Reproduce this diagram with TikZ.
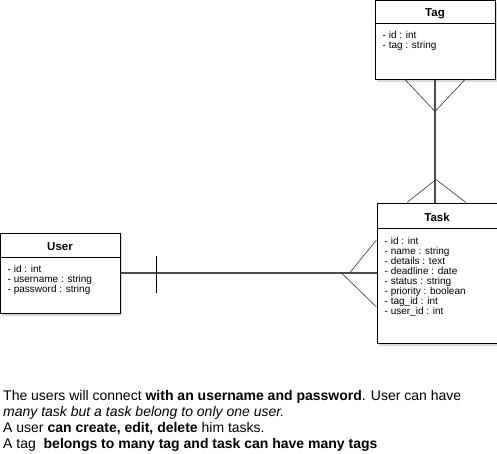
\documentclass[tikz,border=0pt]{standalone}
\usepackage{fontspec}
\setmainfont{Liberation Sans}
\usetikzlibrary{shadows}

\tikzset{
  entity/.style={draw, fill=white, line width=1pt, minimum width=120pt,
    drop shadow={opacity=0.3, shadow xshift=2pt, shadow yshift=-3pt}},
  entitytitle/.style={font=\fontsize{11.5}{12}\selectfont\bfseries, inner sep=0pt},
  attrs/.style={font=\fontsize{10}{10}\selectfont, align=left, anchor=north west, inner sep=0pt},
  link/.style={draw=black!70, line width=1.1pt},
  foot/.style={draw=black!80, line width=0.6pt},
}

\begin{document}
\begin{tikzpicture}[x=1pt,y=-1pt]
  \useasboundingbox (0,0) rectangle (497,453);

  % entities
  \node[entity, minimum height=79pt] (tag) at (435,39.5) {};
  \node[entity, minimum height=140pt] (task) at (437,273) {};
  \node[entity, minimum height=80pt] (user) at (60,273) {};

  \draw[line width=1pt] ([yshift=-24pt]tag.north west) -- ([yshift=-24pt]tag.north east);
  \draw[line width=1pt] ([yshift=-26pt]task.north west) -- ([yshift=-26pt]task.north east);
  \draw[line width=1pt] ([yshift=-25pt]user.north west) -- ([yshift=-25pt]user.north east);

  \node[entitytitle] (tagname) at ([yshift=-14.5pt]tag.north) {Tag};
  \node[entitytitle] (taskname) at ([yshift=-14.5pt]task.north) {Task};
  \node[entitytitle] (username) at ([yshift=-14.5pt]user.north) {User};

  \node[attrs] (tagattrs) at ([xshift=8pt,yshift=-32pt]tag.north west)
    {- id : int\\- tag : string};
  \node[attrs] (taskattrs) at ([xshift=8pt,yshift=-34.5pt]task.north west)
    {- id : int\\- name : string\\- details : text\\- deadline : date\\- status : string\\%
     - priority : boolean\\- tag\_id : int\\- user\_id : int};
  \node[attrs] (userattrs) at ([xshift=8pt,yshift=-33pt]user.north west)
    {- id : int\\- username : string\\- password : string};

  % relations
  \coordinate (tagfoot) at ([yshift=-32pt]tag.south);
  \coordinate (taskfoot) at ([xshift=-1pt,yshift=23pt]task.north);
  \coordinate (userfoota) at ([xshift=-27pt]task.west);
  \coordinate (userfootb) at ([xshift=-35pt]task.west);
  \begin{scope}
    \draw[link] (tag.south) -- (task.north -| tag.south);
    \draw[foot] ([xshift=-30pt]tag.south) -- (tagfoot) -- ([xshift=30pt]tag.south);
    \draw[foot] ([xshift=-30pt]task.north) -- (taskfoot) -- ([xshift=29pt]task.north);
    \draw[link] (user.east) -- (task.west);
    \draw[line width=0.8pt] ([xshift=36pt,yshift=17pt]user.east) -- ([xshift=36pt,yshift=-20pt]user.east);
    \draw[foot] ([yshift=33pt]task.west) -- (userfoota);
    \draw[foot] (userfootb) -- ([yshift=-34pt]task.west);
  \end{scope}

  % notes
  \node[anchor=north west, align=left, inner sep=0pt,
        font=\fontsize{14}{16.2}\selectfont] (notes) at (3,390)
    {The users will connect \textbf{with an username and password}. User can have\\
     \textit{many task but a task belong to only one user.}\\
     A user \textbf{can create, edit, delete} him tasks.\\
     A tag\ \ \textbf{belongs to many tag and task can have many tags}};
\end{tikzpicture}
\end{document}
